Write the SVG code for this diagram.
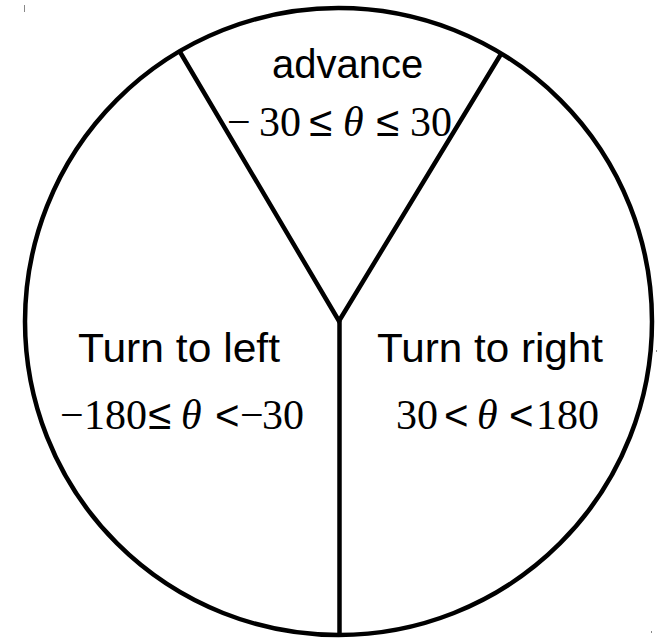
<svg xmlns="http://www.w3.org/2000/svg" width="663" height="639" viewBox="0 0 663 639">
<style>
.ln{fill:none;stroke:#000;stroke-width:4.5;stroke-linecap:butt;stroke-linejoin:miter}
.lbl{font-family:"Liberation Sans",Arial,sans-serif;font-size:40px;fill:#000}
.math{font-family:"Liberation Serif","Times New Roman",serif;font-size:42px;fill:#000}
.op{font-family:"Liberation Sans",Arial,sans-serif;font-size:42px}
.it{font-style:italic}
.tick{stroke:#888;stroke-width:1}
</style>
<rect width="663" height="639" fill="#fff"/>
<g id="connectors">
<circle class="ln" cx="338.5" cy="321.5" r="313.5"/>
<polyline class="ln" points="180,52 339,321 501,54"/>
<line class="ln" x1="339.5" y1="321" x2="339.5" y2="634"/>
</g>
<g id="advance">
<text class="lbl" x="272" y="78">advance</text>
<text class="math"><tspan x="227" y="136">−</tspan><tspan x="259" y="136">30</tspan><tspan class="op" x="309" y="136">≤</tspan><tspan class="it" x="343" y="136">θ</tspan><tspan class="op" x="376" y="136">≤</tspan><tspan x="410" y="136">30</tspan></text>
</g>
<g id="turn-left">
<text class="lbl" x="78" y="362" textLength="202" lengthAdjust="spacingAndGlyphs">Turn to left</text>
<text class="math"><tspan x="60" y="429">−</tspan><tspan x="84" y="429">180</tspan><tspan class="op" x="148" y="429">≤</tspan><tspan class="it" x="181" y="429">θ</tspan><tspan class="op" x="215" y="430">&lt;</tspan><tspan x="240" y="429">−</tspan><tspan x="262" y="429">30</tspan></text>
</g>
<g id="turn-right">
<text class="lbl" x="377" y="362" textLength="226" lengthAdjust="spacingAndGlyphs">Turn to right</text>
<text class="math"><tspan x="396" y="429">30</tspan><tspan class="op" x="444" y="430">&lt;</tspan><tspan class="it" x="477" y="429">θ</tspan><tspan class="op" x="509" y="430">&lt;</tspan><tspan x="536" y="429">180</tspan></text>
</g>
<line class="tick" x1="24.5" y1="5" x2="24.5" y2="12"/>
<line class="tick" x1="656.5" y1="350" x2="656.5" y2="352"/>
<line class="tick" x1="651.5" y1="631" x2="651.5" y2="633"/>
</svg>
